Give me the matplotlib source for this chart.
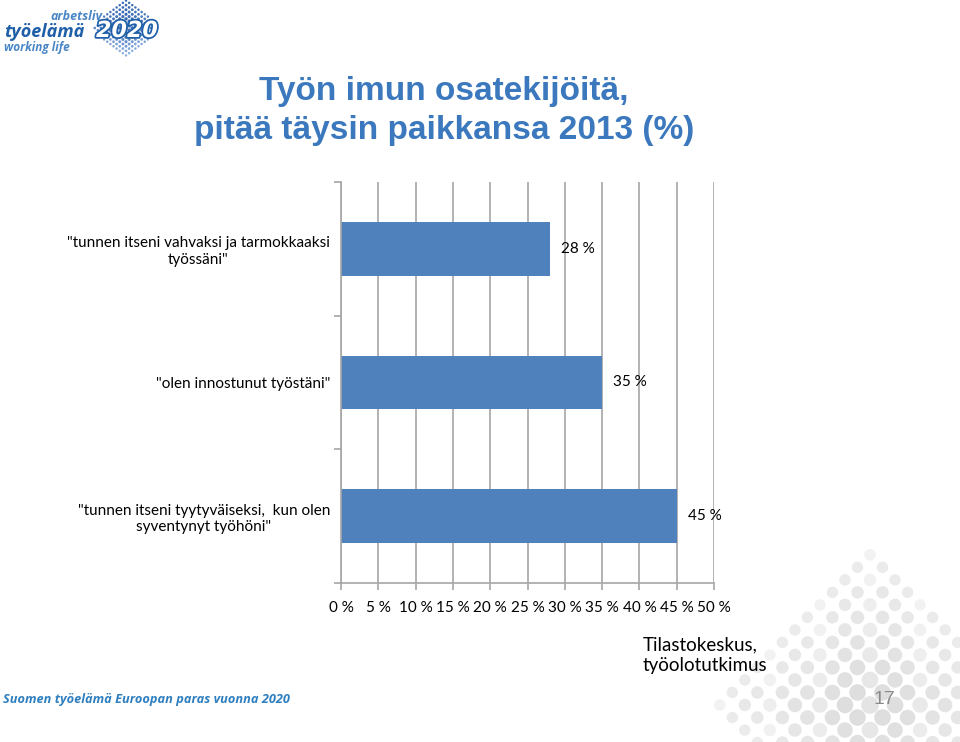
import matplotlib
matplotlib.use("Agg")
import matplotlib.pyplot as plt
import matplotlib.patheffects as pe
import numpy as np

# ---- data ----
categories = ['"tunnen itseni vahvaksi ja tarmokkaaksi\ntyössäni"',
              '"olen innostunut työstäni"',
              '"tunnen itseni tyytyväiseksi,  kun olen\nsyventynyt työhöni"']
values = [28, 35, 45]
value_labels = ["28 %", "35 %", "45 %"]
xticks = [0, 5, 10, 15, 20, 25, 30, 35, 40, 45, 50]
xtick_labels = [f"{t} %" for t in xticks]
title_text = "Työn imun osatekijöitä,\npitää täysin paikkansa 2013 (%)"
source_text = "Tilastokeskus,\ntyöolotutkimus"
footer_text = "Suomen työelämä Euroopan paras vuonna 2020"
page_no = "17"

W, H = 960, 742
fig = plt.figure(figsize=(W / 100, H / 100), dpi=100)
fig.patch.set_facecolor("white")

# ---- decorative background layer (pixel coords) ----
bg = fig.add_axes([0, 0, 1, 1], zorder=0)
bg.set_xlim(0, W)
bg.set_ylim(H, 0)
bg.axis("off")

# grey halftone dots, bottom right
cx, cy = 870, 705
sp = 17.7
for i in range(-18, 19):
    for j in range(-18, 19):
        u, v = i * sp, j * sp
        x = cx + (u - v) / np.sqrt(2)
        y = cy + (u + v) / np.sqrt(2)
        if x < 640 or x > W + 10 or y < 545 or y > H + 10:
            continue
        d = abs(x - cx) / 150 + abs(y - cy) / 150
        if d > 1.05:
            continue
        r = 8.8 * (1 - 0.35 * d)
        shade = 0.86 + 0.06 * d + 0.035 * (((i * 5 + j * 3) % 4) == 0)
        shade = min(shade, 0.95)
        bg.add_patch(plt.Circle((x, y), r, color=(shade, shade, shade), lw=0))

# logo halftone diamond
lcx, lcy = 126, 28
for i in range(-12, 13):
    for j in range(-12, 13):
        u, v = i * 3.4, j * 3.4
        x = lcx + (u - v) / np.sqrt(2) * 1.3
        y = lcy + (u + v) / np.sqrt(2) * 0.95
        d = abs(x - lcx) / 37 + abs(y - lcy) / 28
        if d > 1.0:
            continue
        r = 1.9 * (1 - 0.35 * d)
        t = min(1.0, max(0.0, (y - 5) / 50)) * 0.6 + 0.3 * d
        col = (0.08 + 0.55 * t, 0.30 + 0.45 * t, 0.62 + 0.3 * t)
        bg.add_patch(plt.Circle((x, y), r, color=col, lw=0))
bg.text(127, 31, "2020", fontsize=16, fontweight="bold", style="italic",
        color="white", ha="center", va="center", family="DejaVu Sans",
        path_effects=[pe.withStroke(linewidth=2.5, foreground="#1f5fa8")])
bg.text(102, 17, "arbetsliv", fontsize=9, fontweight="bold", style="italic",
        color="#4a86c5", ha="right", va="center", family="Open Sans")
bg.text(4, 32, "työelämä", fontsize=13, fontweight="bold", style="italic",
        color="#1f5fa8", ha="left", va="center", family="Open Sans")
bg.text(4, 47, "working life", fontsize=8.5, fontweight="bold", style="italic",
        color="#4a86c5", ha="left", va="center", family="Open Sans")

# ---- title & other texts ----
bg.text(444, 111, title_text, fontsize=24, fontweight="bold", color="#3b78bd",
        ha="center", va="center", family="Liberation Sans", linespacing=1.3)
bg.text(643, 655, source_text, fontsize=13.5, color="black", ha="left", va="center",
        family="Lato", linespacing=1.3)
bg.text(3, 700, footer_text, fontsize=9.2, fontweight="bold", style="italic",
        color="#2f7fbf", ha="left", va="center", family="Open Sans")
bg.text(884, 699, page_no, fontsize=14, color="#8a8a8a", ha="center", va="center",
        family="Liberation Sans")

# ---- chart ----
ax = fig.add_axes([341 / W, 1 - 583 / H, (714 - 341) / W, (583 - 182) / H], zorder=1)
ax.patch.set_alpha(0)
ypos = np.arange(len(categories))
ax.barh(ypos, values, height=0.4, color="#4f81bd", zorder=2)
ax.set_xlim(0, 50)
ax.set_ylim(len(categories) - 0.5, -0.5)

grid_col = "#a6a6a6"
ax.set_xticks(xticks)
ax.set_xticklabels(xtick_labels, fontsize=11, family="Lato")
ax.xaxis.grid(True, color=grid_col, lw=1.2, zorder=1)
ax.set_axisbelow(True)

ax.set_yticks(np.arange(len(categories) + 1) - 0.5)
ax.set_yticklabels([])
ax.set_yticks(ypos, minor=True)
ax.set_yticklabels(categories, minor=True, fontsize=11, family="Lato")
for lab in ax.get_yticklabels(minor=True):
    lab.set_multialignment("center")
ax.tick_params(axis="y", which="minor", length=0, pad=8)
ax.tick_params(axis="y", which="major", length=5, color=grid_col, width=1.2)
ax.tick_params(axis="x", length=5, color=grid_col, width=1.2, pad=8)

for s in ["top", "right"]:
    ax.spines[s].set_visible(False)
for s in ["left", "bottom"]:
    ax.spines[s].set_color(grid_col)
    ax.spines[s].set_linewidth(1.2)

for y, v, t in zip(ypos, values, value_labels):
    ax.text(v + 1.5, y, t, ha="left", va="center", fontsize=11, family="Lato", zorder=3)

fig.savefig("out.png", dpi=100, facecolor="white")
